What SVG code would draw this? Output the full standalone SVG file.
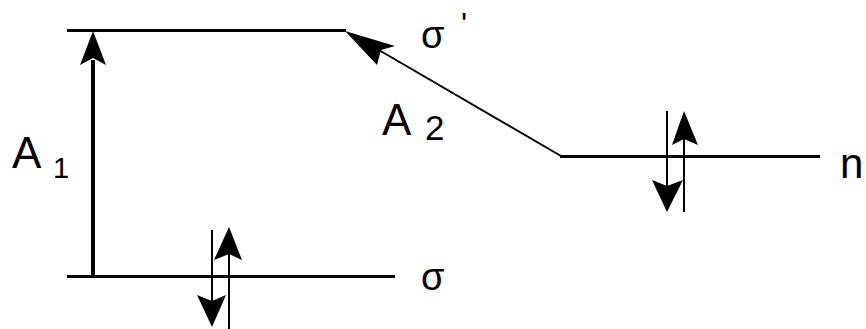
<svg xmlns="http://www.w3.org/2000/svg" width="866" height="329" viewBox="0 0 866 329">
<style>
.lvl{stroke:#000;stroke-width:3;fill:none}
.el{stroke:#000;stroke-width:2;fill:none}
.hd{fill:#000;stroke:none}
text{font-family:"Liberation Sans",Arial,sans-serif;fill:#000}
</style>
<rect width="866" height="329" fill="#fff"/>
<g id="sigma-star">
<line class="lvl" x1="67" y1="30.5" x2="346" y2="30.5"/>
<text x="421" y="48" font-size="38">σ<tspan x="461" y="35" font-size="32">'</tspan></text>
</g>
<g id="sigma">
<line class="lvl" x1="67" y1="276.5" x2="395" y2="276.5"/>
<text x="421" y="290" font-size="38">σ</text>
<line class="el" x1="212" y1="230" x2="212" y2="324"/>
<polygon class="hd" points="212,327 197,295 212,301 226,295"/>
<line class="el" x1="229" y1="329" x2="229" y2="232"/>
<polygon class="hd" points="229,227 214,260 229,254 242,260"/>
</g>
<g id="n">
<line class="lvl" x1="560" y1="156.5" x2="820" y2="156.5"/>
<text x="840" y="178" font-size="42">n</text>
<line class="el" x1="667" y1="111" x2="667" y2="208"/>
<polygon class="hd" points="667,212 652,180 667,186 683,180"/>
<line class="el" x1="684" y1="212" x2="684" y2="116"/>
<polygon class="hd" points="684,111 672,145 684,139 698,145"/>
</g>
<g id="connectors">
<line x1="93" y1="276" x2="93" y2="60" stroke="#000" stroke-width="4"/>
<polygon class="hd" points="93,31 80,65 93,58 106,65"/>
<line class="el" x1="372" y1="46" x2="561" y2="156"/>
<polygon class="hd" points="345,31 395,46 381,50 377,65"/>
<text x="12" y="168" font-size="44">A<tspan x="53" y="178" font-size="29">1</tspan></text>
<text x="382" y="135" font-size="44">A<tspan x="425" y="140" font-size="35">2</tspan></text>
</g>
</svg>
